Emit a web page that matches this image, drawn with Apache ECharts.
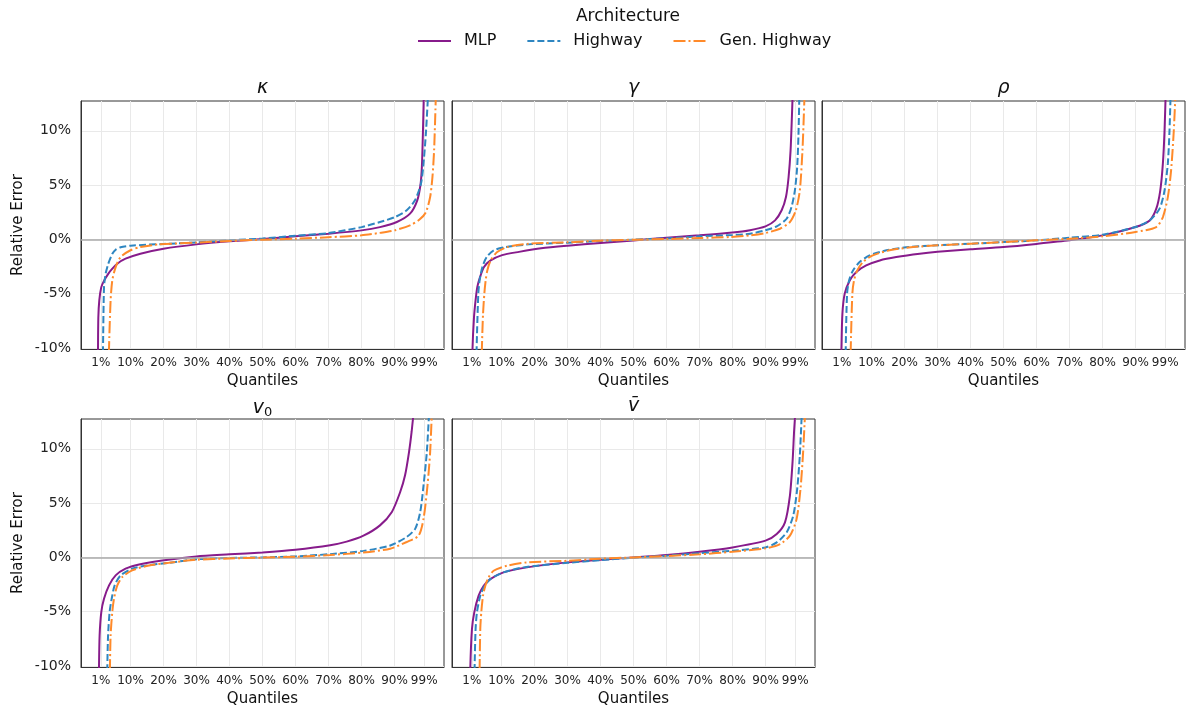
<!DOCTYPE html>
<html><head><meta charset="utf-8">
<script src="https://cdn.jsdelivr.net/npm/echarts@6/dist/echarts.min.js"></script>
<style>html,body{margin:0;padding:0;background:#fff}#c{width:1191px;height:711px}</style>
</head><body><div id="c"></div>
<script>
// ---------------- data ----------------
const ARCHS = ['MLP', 'Highway', 'Gen. Highway'];
const LEGEND_TITLE = 'Architecture';
const X_TICKS = [1, 10, 20, 30, 40, 50, 60, 70, 80, 90, 99];
const Y_TICKS = [-10, -5, 0, 5, 10];
const X_NAME = 'Quantiles';
const Y_NAME = 'Relative Error';

// [quantile position, relative error %]
const kappa_MLP = [[0,-16],[0.15,-10.2],[0.25,-7.2],[0.55,-5.6],[1.15,-4.4],[2,-3.8],[3.3,-3.15],[4.5,-2.7],[6,-2.24],[8.5,-1.78],[13,-1.32],[20,-0.86],[30,-0.46],[40,-0.18],[50,0.03],[60,0.28],[70,0.52],[80,0.83],[85.6,1.13],[90.7,1.6],[94.7,2.37],[96.9,3.6],[97.9,5.1],[98.3,6.7],[98.6,9.7],[98.9,13.5]];
const kappa_Highway = [[1.3,-16],[1.66,-10.2],[1.97,-4.4],[2.46,-3.17],[3.27,-2.24],[4.5,-1.32],[5.5,-0.95],[7,-0.72],[10,-0.58],[20,-0.42],[30,-0.28],[40,-0.08],[50,0.08],[60,0.33],[70,0.58],[80,1.13],[85.6,1.6],[90.2,2.06],[93.7,2.68],[96.2,3.6],[98,5.1],[98.7,6.7],[99.5,9.7],[100.2,13.5]];
const kappa_GenHighway = [[3.2,-16],[3.48,-10.2],[3.97,-5.63],[4.48,-3.78],[5.5,-2.55],[7,-1.63],[10,-1.0],[13,-0.71],[18.6,-0.46],[30,-0.3],[40,-0.15],[50,-0.03],[60,0.06],[70,0.2],[80,0.37],[85.6,0.6],[90,0.83],[94.7,1.29],[97.5,1.8],[99.5,2.5],[100.8,3.9],[101.5,5.75],[102,8.2],[102.4,11.9],[102.6,14]];

const gamma_MLP = [[0.8,-16],[1.2,-10.2],[1.66,-7.2],[2.15,-5.6],[2.66,-4.4],[3.47,-3.5],[4.7,-2.55],[6.7,-1.94],[10.2,-1.45],[15.3,-1.15],[22,-0.82],[30,-0.58],[40,-0.33],[50,-0.1],[60,0.15],[70,0.37],[80,0.63],[85.3,0.85],[90,1.2],[92.9,1.75],[94.9,2.68],[96.2,3.9],[97,5.75],[97.6,8.2],[98,11.3],[98.3,14]];
const gamma_Highway = [[2.1,-16],[2.45,-10.2],[2.97,-5],[3.37,-3.78],[4.2,-2.55],[5.5,-1.63],[7.7,-1.0],[11.2,-0.71],[18.3,-0.46],[30,-0.3],[40,-0.15],[50,-0.03],[60,0.09],[70,0.28],[80,0.4],[85.3,0.52],[89.9,0.83],[93.4,1.2],[96.4,1.9],[97.9,3.0],[98.9,4.5],[99.6,6.67],[100,9.75],[100.3,14]];
const gamma_GenHighway = [[3.8,-16],[4.05,-10.2],[4.4,-6.9],[4.8,-5],[5.2,-3.78],[5.7,-2.86],[6.7,-1.94],[8.7,-1.17],[11.7,-0.71],[18.3,-0.4],[30,-0.27],[40,-0.12],[50,-0.03],[60,0.03],[70,0.12],[79.3,0.22],[85.3,0.37],[89.9,0.58],[94.4,0.98],[97.4,1.6],[99.2,2.68],[100.4,4.5],[101.2,8.2],[101.6,11.3],[101.9,14]];

const rho_MLP = [[0.5,-16],[0.88,-10.2],[1.18,-6.86],[1.88,-5.0],[3.4,-3.78],[5.4,-3.0],[8.4,-2.4],[12.5,-1.94],[17.5,-1.63],[24.6,-1.32],[30,-1.15],[40,-0.92],[50,-0.71],[60,-0.42],[70,-0.09],[80,0.37],[90,1.14],[94.3,1.75],[96.3,2.83],[97.5,4.5],[98.3,7],[98.8,10],[99.2,14]];
const rho_Highway = [[1.9,-16],[2.18,-10.2],[2.6,-5],[3.2,-3.78],[4.4,-2.86],[6.4,-2.09],[9.4,-1.48],[14.5,-1.0],[21.5,-0.71],[30,-0.55],[40,-0.4],[50,-0.25],[60,-0.09],[70,0.15],[80,0.43],[90,1.14],[94.3,1.75],[97.3,2.83],[98.8,4.5],[99.8,7],[100.3,10],[100.7,14]];
const rho_GenHighway = [[3.4,-16],[3.7,-10.2],[4.2,-5],[4.7,-3.78],[5.7,-2.86],[7.4,-2.09],[10.4,-1.48],[15.5,-1.0],[22.6,-0.71],[30,-0.55],[40,-0.4],[50,-0.25],[60,-0.09],[70,0.06],[80,0.28],[90,0.68],[96.3,1.14],[98.3,2.06],[99.8,3.9],[100.8,6.4],[101.6,10],[102.2,14]];

const v0_MLP = [[0.2,-16],[0.45,-10.2],[0.64,-7.2],[1.15,-5.04],[1.97,-3.81],[3.5,-2.58],[5.5,-1.66],[8.5,-1.04],[12.6,-0.65],[19.6,-0.28],[30,0.09],[40,0.28],[50,0.46],[60,0.71],[70.5,1.12],[75.5,1.45],[80.6,2.0],[85.6,2.95],[89.2,4.19],[91.7,6.0],[93.2,7.56],[94.4,9.7],[95.2,11.6],[96,14]];
const v0_Highway = [[2.7,-16],[2.97,-10.2],[3.2,-7.2],[3.67,-5.04],[4.3,-3.81],[5.2,-2.58],[7,-1.66],[10.5,-1.04],[15,-0.74],[21.6,-0.5],[30,-0.17],[40,-0.06],[50,0],[60,0.09],[70.5,0.3],[80.6,0.6],[88.7,1.1],[93.7,1.88],[96.3,2.65],[97.8,4.19],[98.8,6.64],[99.8,9.72],[100.6,14]];
const v0_GenHighway = [[3.5,-16],[3.77,-10.2],[3.97,-7.2],[4.48,-5.04],[5,-3.81],[6,-2.58],[7.5,-1.82],[10.5,-1.2],[15.6,-0.74],[21.6,-0.5],[30,-0.22],[40,-0.1],[50,-0.02],[60,0.06],[70.5,0.22],[80.6,0.45],[88.7,0.8],[93.7,1.42],[97.3,2.0],[98.8,3.56],[100,6.64],[100.8,9.7],[101.4,14]];

const vbar_MLP = [[0.3,-16],[0.55,-10.2],[1.05,-6.6],[1.75,-5.07],[3.07,-3.53],[4.6,-2.61],[6.6,-2.0],[10.6,-1.38],[17.7,-0.92],[30,-0.46],[40,-0.22],[50,0],[60,0.22],[70,0.52],[80,0.92],[90,1.54],[93.4,2.15],[95.9,3.23],[97.4,5.7],[98.2,8.8],[98.7,11.8],[99.3,14.5]];
const vbar_Highway = [[1.6,-16],[1.85,-10.2],[2.15,-6.6],[2.56,-5.07],[3.57,-3.53],[4.9,-2.61],[6.6,-2.0],[10.6,-1.38],[16.7,-0.92],[30,-0.5],[40,-0.25],[50,-0.03],[60,0.15],[70,0.38],[80,0.62],[90,0.92],[93.4,1.38],[96.4,2.3],[98.4,3.84],[99.6,6.3],[100.4,9.4],[101.1,14]];
const vbar_GenHighway = [[3.1,-16],[3.37,-10.2],[3.57,-6.6],[3.87,-5.07],[4.4,-3.53],[5.1,-2.61],[6.1,-1.84],[7.6,-1.23],[11.7,-0.77],[17.7,-0.46],[30,-0.31],[40,-0.12],[50,0],[60,0.12],[70,0.28],[80,0.52],[90,0.83],[94.4,1.23],[97.4,2.0],[99.4,3.5],[100.6,6.3],[101.4,9.7],[102.1,14]];

const PANEL_TITLES = ['{i|κ}', '{i|γ}', '{i|ρ}', '{i|v}{s|0}', '{i|v\u0304}'];
const PANEL_DATA = [
  [kappa_MLP, kappa_Highway, kappa_GenHighway],
  [gamma_MLP, gamma_Highway, gamma_GenHighway],
  [rho_MLP, rho_Highway, rho_GenHighway],
  [v0_MLP, v0_Highway, v0_GenHighway],
  [vbar_MLP, vbar_Highway, vbar_GenHighway]
];

// ---------------- layout & style ----------------
const FONT = 'DejaVu Sans';
const COLORS = ['#871b8b', '#2e86c1', '#ff8a2a'];
const DASHES = ['solid', [7, 3], [12, 3, 2, 3]];
const COL_LEFT = [81, 452, 822];
const ROW_TOP = [101, 419];
const GW = 363, GH = 248;
const POS = [[0,0],[0,1],[0,2],[1,0],[1,1]];

const grids = [], xAxes = [], yAxes = [], series = [], titles = [];
POS.forEach(([r, c], i) => {
  grids.push({ left: COL_LEFT[c], top: ROW_TOP[r], width: GW, height: GH,
    show: true, borderColor: '#333', borderWidth: 1, backgroundColor: '#fff' });
  xAxes.push({ type: 'value', gridIndex: i, min: -5, max: 105,
    name: X_NAME, nameLocation: 'middle', nameGap: 25,
    nameTextStyle: { fontFamily: FONT, fontSize: 15, color: '#111' },
    axisLine: { show: true, onZero: false, lineStyle: { color: '#333', width: 1 } },
    axisTick: { show: false, customValues: X_TICKS },
    axisLabel: { customValues: X_TICKS, formatter: '{value}%', fontFamily: FONT, fontSize: 12, color: '#222', margin: 8 },
    splitLine: { show: true, lineStyle: { color: '#e9e9e9', width: 1 } } });
  yAxes.push({ type: 'value', gridIndex: i, min: -10.1, max: 12.75,
    name: c === 0 ? Y_NAME : '', nameLocation: 'middle', nameGap: 55, nameRotate: 90,
    nameTextStyle: { fontFamily: FONT, fontSize: 15, color: '#111' },
    axisLine: { show: true, onZero: false, lineStyle: { color: '#333', width: 1 } },
    axisTick: { show: false, customValues: Y_TICKS },
    axisLabel: { show: c === 0, customValues: Y_TICKS, formatter: '{value}%', fontFamily: FONT, fontSize: 14, color: '#222', margin: 10 },
    splitLine: { show: true, lineStyle: { color: '#e9e9e9', width: 1 } } });
  titles.push({ text: PANEL_TITLES[i], left: COL_LEFT[c] + GW / 2, top: ROW_TOP[r] - 22, textAlign: 'center', padding: 0,
    textStyle: { fontFamily: FONT, fontSize: 18, fontWeight: 'normal', color: '#111',
      rich: { i: { fontFamily: FONT, fontSize: 19, fontStyle: 'italic', fontWeight: 'normal', color: '#111' },
              s: { fontFamily: FONT, fontSize: 13, fontWeight: 'normal', color: '#111', padding: [9, 0, 0, 0] } } } });
  ARCHS.forEach((name, k) => {
    const s = { type: 'line', name: name, xAxisIndex: i, yAxisIndex: i, data: PANEL_DATA[i][k],
      showSymbol: false, symbol: 'none', clip: true, smooth: 0.25,
      lineStyle: { color: COLORS[k], width: 2, type: DASHES[k] }, itemStyle: { color: COLORS[k] },
      z: 3 + k, animation: false };
    if (k === 0) {
      s.markLine = { silent: true, symbol: 'none', label: { show: false }, animation: false,
        lineStyle: { color: '#a8a8a8', width: 1.5, type: 'solid' }, data: [{ yAxis: 0 }] };
    }
    series.push(s);
  });
});
titles.push({ text: LEGEND_TITLE, left: 628, top: 8, textAlign: 'center', padding: 0,
  textStyle: { fontFamily: FONT, fontSize: 17, fontWeight: 'normal', color: '#111' } });

const chart = echarts.init(document.getElementById('c'), null, { renderer: 'canvas' });
chart.setOption({
  animation: false,
  backgroundColor: '#fff',
  title: titles,
  legend: { data: ARCHS, left: 417, top: 33, padding: 0, itemWidth: 33, itemHeight: 14, itemGap: 30,
    itemStyle: { opacity: 0 },
    textStyle: { fontFamily: FONT, fontSize: 16, color: '#111', padding: [0, 0, 0, 8] } },
  grid: grids, xAxis: xAxes, yAxis: yAxes, series: series
});
</script></body></html>
